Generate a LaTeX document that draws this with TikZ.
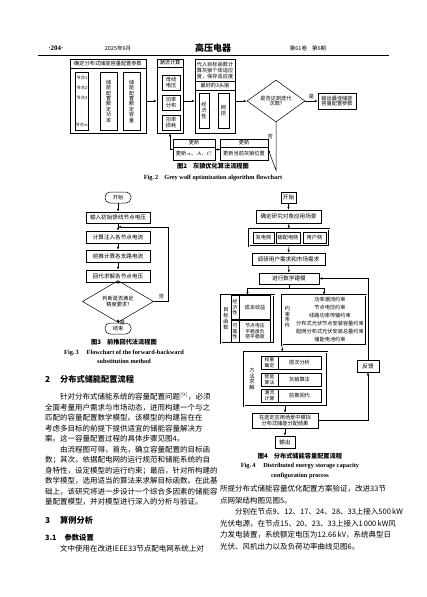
\documentclass[tikz,border=0pt]{standalone}
\usepackage{fontspec}
\setmainfont{Noto Sans CJK SC}
\newfontfamily\enf{Liberation Serif}
\XeTeXlinebreaklocale "zh"
\XeTeXlinebreakskip=0pt plus 1pt minus 0.6pt
\usetikzlibrary{arrows.meta,shapes.geometric}
\newcommand\fullline[2][164pt]{\makebox[#1][s]{#2}}

\begin{document}
\begin{tikzpicture}[x=1pt,y=-1pt,
  every node/.style={inner sep=0pt},
  fs/.style={font=\fontsize{5.2}{5.9}\selectfont},
  fsm/.style={font=\fontsize{5.6}{6.4}\selectfont},
  fss/.style={font=\fontsize{4.8}{5.4}\selectfont},
  box/.style={draw,line width=0.5pt,align=center,fs},
  grp/.style={draw,line width=0.5pt,double,double distance=0.6pt},
  txt/.style={align=center,fs},
  dia/.style={draw,diamond,line width=0.5pt,align=center,fs},
  term/.style={draw,rounded corners=5pt,line width=0.5pt,align=center,fs},
  arr/.style={-{Latex[length=3pt,width=2.4pt]},line width=0.5pt},
  ln/.style={line width=0.5pt},
  body/.style={anchor=west,font=\fontsize{7.5}{9}\selectfont},
  head/.style={anchor=west,font=\bfseries\fontsize{8.2}{9}\selectfont},
  capzh/.style={font=\bfseries\fontsize{6.2}{7.4}\selectfont},
  capen/.style={font=\enf\bfseries\fontsize{6.3}{9.6}\selectfont}]
\path[fill=white] (0,0) rectangle (427,597);

\node[font=\enf\bfseries\fontsize{7}{8}\selectfont] (pgno) at (56,48) {·204·};
\node[font=\fontsize{5.5}{6}\selectfont] (hdate) at (118,48) {2025年6月};
\node[font=\bfseries\fontsize{9}{10}\selectfont] (hjnl) at (213,48) {高压电器};
\node[font=\fontsize{5.5}{6}\selectfont] (hvol) at (308,48) {第61卷\hspace{5pt}第6期};
\draw[line width=0.8pt] (38,55) -- (389,55);

\node[box,minimum width=76,minimum height=74] (gwA) at (108,96) {};
\draw[ln] (70,68) -- (146,68);
\node[txt] (gwAt) at (108,63.5) {确定分布式储能容量配置参数};
\node[box,minimum width=12,minimum height=58,font=\fontsize{4.2}{5}\selectfont] (gwNd) at (82,101) {节点1\\[5pt]节点2\\[5pt]节点3\\[3pt]$\vdots$\\[3pt]节点$n$};
\node[box,minimum width=17,minimum height=58,anchor=north,font=\fontsize{5}{5.4}\selectfont] (gwP) at (108.5,72) {储\\能\\配\\置\\额\\定\\功\\率};
\node[box,minimum width=17,minimum height=58,anchor=north,font=\fontsize{5}{5.4}\selectfont] (gwE) at (131.5,72) {储\\能\\配\\置\\额\\定\\容\\量};

\node[box,minimum width=26,minimum height=74] (gwB) at (170,96) {};
\draw[ln] (157,67) -- (183,67);
\node[txt] (gwBt) at (170,63) {潮流计算};
\node[box,minimum width=18,minimum height=15] (gwB1) at (171,82.5) {母线\\电压};
\node[box,minimum width=18,minimum height=15] (gwB2) at (171,102.5) {功率\\分布};
\node[box,minimum width=18,minimum height=15] (gwB3) at (171,122.5) {功率\\损耗};

\node[box,minimum width=40,minimum height=74] (gwC) at (215,96) {};
\node[txt] (gwCt) at (215,70.5) {代入目标函数计\\算灰狼个体适应\\度，保存适应度};
\draw[ln] (195,81) -- (235,81);
\node[txt] (gwCb) at (215,85.5) {最好的3头狼};
\draw[ln] (195,90) -- (235,90);
\node[box,minimum width=10,minimum height=35] (gwC1) at (204,110.5) {经\\济\\性};
\node[txt] (gwCd) at (213.5,111) {$\cdots$};
\node[box,minimum width=11,minimum height=35] (gwC2) at (223.5,110.5) {网\\损};

\node[dia,minimum width=58,minimum height=31] (gwD) at (276,101) {是否达到迭代\\次数?};
\node[box,minimum width=38,minimum height=16] (gwO) at (337,101) {输出最佳储能\\容量配置参数};

\node[box,minimum width=48,minimum height=21] (gwU2) at (244,149.5) {};
\draw[ln] (220,147) -- (268,147);
\node[txt] (gwU2t) at (244,143) {更新};
\node[txt] (gwU2b) at (244,153.5) {更新当前灰狼位置};
\node[box,minimum width=42,minimum height=21] (gwU1) at (194,149.5) {};
\draw[ln] (173,147) -- (215,147);
\node[txt] (gwU1t) at (194,143) {更新};
\node[txt] (gwU1b) at (194,153.5) {更新\,$a$、$A$、$C$};

\draw[arr] (gwA.east |- gwD) -- (gwB.west |- gwD);
\draw[arr] (gwB.east |- gwD) -- (gwC.west |- gwD);
\draw[arr] (gwC.east |- gwD) -- (gwD.west);
\draw[arr] (gwD.east) -- node[above=1.5pt,fs] (gwYes) {是} (gwO.west);
\draw[arr] (gwD.south) -- node[left=3pt,pos=0.3,fs] (gwNo) {否} ++(0,48) -- (gwU2.east);
\draw[arr] (gwU2.west) -- (gwU1.east);
\draw[arr] (gwU1.west) -- ++(-2.5,0) -- (gwU1.west -| gwB.south) -- (gwB.south);

\node[capzh] (cap2) at (213,166) {图2\hspace{6pt}灰狼优化算法流程图};
\node[capen] (cap2e) at (213,178) {Fig.\,2\hspace{6pt}Grey wolf optimization algorithm flowchart};

\node[term,minimum width=26,minimum height=11] (fbS) at (118,197.5) {开始};
\node[box,minimum width=64,minimum height=11,fsm] (fb1) at (118,217.5) {输入初始馈线节点电压};
\node[box,minimum width=64,minimum height=12,fsm] (fb2) at (118,237) {计算注入各节点电流};
\node[box,minimum width=64,minimum height=12,fsm] (fb3) at (118,256) {前推计算各支路电流};
\node[box,minimum width=64,minimum height=12,fsm] (fb4) at (118,276) {回代求解各节点电压};
\node[dia,minimum width=71,minimum height=25] (fbD) at (118,301.5) {判断是否满足\\精度要求?};
\node[term,minimum width=26,minimum height=11] (fbE) at (118,328.5) {结束};
\coordinate (fbJ) at (118,227);
\draw[arr] (fbS) -- (fb1);
\draw[arr] (fb1) -- (fb2);
\draw[arr] (fb2) -- (fb3);
\draw[arr] (fb3) -- (fb4);
\draw[arr] (fb4) -- (fbD);
\draw[arr] (fbD) -- node[right=1.5pt,pos=0.35,fs] (fbYes) {是} (fbE);
\draw[arr] (fbD.east) -- node[above=2pt,pos=0.55,fs] (fbNo) {否} ++(14,0) |- (fbJ);

\node[capzh] (cap3) at (124,342) {图3\hspace{6pt}前推回代法流程图};
\node[capen,align=center] (cap3e) at (124,357) {Fig.\,3\hspace{8pt}Flowchart of the forward-backward\\substitution method};

\node[box,minimum width=15,minimum height=11,fsm] (esS) at (288.5,197.5) {开始};
\node[box,minimum width=65,minimum height=13,fsm] (es1) at (288.5,216.5) {确定研究对象应用场景};
\node[grp,minimum width=80,minimum height=17] (esG) at (289,237.5) {};
\node[box,minimum width=21,minimum height=11] (esG1) at (263.5,237.5) {发电侧};
\node[box,minimum width=24,minimum height=11] (esG2) at (288,237.5) {输配电侧};
\node[box,minimum width=23,minimum height=11] (esG3) at (314.5,237.5) {用户侧};
\node[box,minimum width=73,minimum height=12,fsm] (es2) at (288.5,259) {调研用户需求和市场需求};
\node[box,minimum width=60,minimum height=11,fsm] (es3) at (289,278.5) {进行数学建模};

\node[grp,minimum width=53,minimum height=48] (esObj) at (247.5,319) {};
\node[txt] (esObjt) at (226,319) {目\\标\\函\\数};
\draw[ln] (231,295) -- (231,343);
\node[box,minimum width=8,minimum height=24,fss] (esR1) at (235,307.5) {经\\济\\性};
\node[box,minimum width=31,minimum height=24] (esR1b) at (255,307.5) {成本收益};
\node[box,minimum width=8,minimum height=22,fss] (esR2) at (235,331.5) {可\\靠\\性};
\node[box,minimum width=31,minimum height=22,fss] (esR2b) at (255,331.5) {节点电压\\平稳度负\\荷平稳度};

\node[grp,minimum width=84,minimum height=50] (esCon) at (324,320) {};
\node[txt] (esCont) at (287.5,317) {约\\束\\条\\件};
\node[txt,font=\fontsize{5.2}{8}\selectfont] (esConL) at (330,320) {功率潮流约束\\节点电压约束\\线路功率传输约束\\分布式光伏节点安装容量约束\\配网分布式光伏安装总量约束\\储能电池约束};

\node[grp,minimum width=83,minimum height=54] (esSol) at (285.5,379) {};
\node[txt] (esSolt) at (252,379) {方\\法\\求\\解};
\node[box,minimum width=17,minimum height=13,fss] (esM1) at (269.5,362.5) {权重\\确定};
\node[box,minimum width=43,minimum height=13] (esM1b) at (299.5,362.5) {层次分析};
\node[box,minimum width=17,minimum height=13,fss] (esM2) at (269.5,379.5) {智能\\算法};
\node[box,minimum width=43,minimum height=13] (esM2b) at (299.5,379.5) {灰狼算法};
\node[box,minimum width=17,minimum height=13,fss] (esM3) at (269.5,395.5) {潮流\\计算};
\node[box,minimum width=43,minimum height=13] (esM3b) at (299.5,395.5) {前推回代};

\node[box,minimum width=66,minimum height=15] (es4) at (285,420.5) {在选定应用场景中模拟\\分布式储能分配结果};
\node[box,minimum width=20,minimum height=12,fsm] (esOut) at (285,442) {输出};
\node[box,minimum width=22,minimum height=12,fsm] (esFb) at (368,366) {反馈};

\coordinate (esBr) at (289,288);
\draw[ln] (es3) -- (esBr);
\draw[arr] (esBr) -| (esObj.north);
\draw[arr] (esBr) -| (esCon.north);
\draw[arr] (esS) -- (es1);
\draw[arr] (es1) -- (esG);
\draw[arr] (esG) -- (es2);
\draw[arr] (es2) -- (es3);
\draw[arr] (esCon.south west) ++(0.4,0) -- (esSol.north -| 282.4,0);
\draw[arr] (esSol.south -| es4) -- (es4);
\draw[arr] (es4) -- (esOut);
\draw[arr] (es4.east) -| (esFb.south);
\draw[arr] (esFb.north) |- (es3.east);

\node[capzh] (cap4) at (300,456) {图4\hspace{6pt}分布式储能容量配置流程};
\node[capen,align=center] (cap4e) at (300,471) {Fig.\,4\hspace{8pt}Distributed energy storage capacity\\configuration process};

\node[head] (h2) at (45,379) {2\hspace{10pt}分布式储能配置流程};
\node[body] (p1) at (45,397) {\fullline{\hspace*{15pt}针对分布式储能系统的容量配置问题$^{[9]}$，必须}};
\node[body] (p2) at (45,407.5) {\fullline{全面考量用户需求与市场动态，进而构建一个与之}};
\node[body] (p3) at (45,418) {\fullline{匹配的容量配置数学模型。该模型的构建旨在在}};
\node[body] (p4) at (45,428.5) {\fullline{考虑多目标的前提下提供适宜的储能容量解决方}};
\node[body] (p5) at (45,439) {案。这一容量配置过程的具体步骤见图4。};
\node[body] (p6) at (45,449.5) {\fullline{\hspace*{15pt}由流程图可得，首先，确立容量配置的目标函}};
\node[body] (p7) at (45,460) {\fullline{数；其次，依据配电网的运行规范和储能系统的自}};
\node[body] (p8) at (45,470.5) {\fullline{身特性，设定模型的运行约束；最后，针对所构建的}};
\node[body] (p9) at (45,481) {\fullline{数学模型，选用适当的算法来求解目标函数。在此基}};
\node[body] (p10) at (45,491.5) {\fullline{础上，该研究将进一步设计一个综合多因素的储能容}};
\node[body] (p11) at (45,502) {量配置模型，并对模型进行深入的分析与验证。};
\node[head] (h3) at (45,520) {3\hspace{10pt}算例分析};
\node[body,font=\bfseries\fontsize{7.3}{9}\selectfont] (h31) at (45,538) {3.1\hspace{8pt}参数设置};
\node[body] (p12) at (45,548.5) {\fullline{\hspace*{15pt}文中使用在改进IEEE33节点配电网系统上对}};

\node[body] (q1) at (220,489) {\fullline[162pt]{所提分布式储能容量优化配置方案验证，改进33节}};
\node[body] (q2) at (220,500.5) {点网架结构图见图5。};
\node[body] (q3) at (220,512) {\fullline[162pt]{\hspace*{15pt}分别在节点9、12、17、24、28、33上接入500\,kW}};
\node[body] (q4) at (220,523.5) {\fullline[162pt]{光伏电源，在节点15、20、23、33上接入1\,000\,kW风}};
\node[body] (q5) at (220,535) {\fullline[162pt]{力发电装置，系统额定电压为12.66\,kV，系统典型日}};
\node[body] (q6) at (220,546.5) {光伏、风机出力以及负荷功率曲线见图6。};
\end{tikzpicture}
\end{document}
